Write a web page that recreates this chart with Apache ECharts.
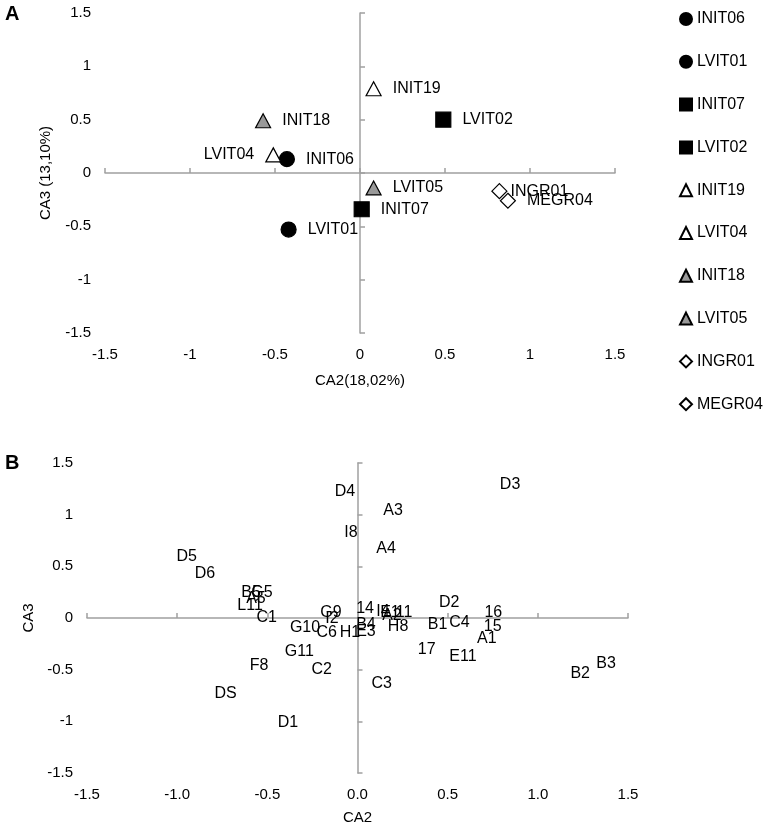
<!DOCTYPE html>
<html><head><meta charset="utf-8">
<script src="https://cdn.jsdelivr.net/npm/echarts@6/dist/echarts.min.js"></script>
<style>html,body{margin:0;padding:0;background:#fff}#c{width:765px;height:830px}</style>
</head><body><div id="c"></div>
<script>
// ---- Panel A: samples ----
const sampleNames = ['INIT06','LVIT01','INIT07','LVIT02','INIT19','LVIT04','INIT18','LVIT05','INGR01','MEGR04'];
const sampleCA2 = [-0.43,-0.42,0.01,0.49,0.08,-0.51,-0.57,0.08,0.82,0.87];
const sampleCA3 = [0.13,-0.53,-0.34,0.50,0.79,0.17,0.49,-0.14,-0.17,-0.26];
const sampleSymbols = ['circle','circle','rect','rect','triangle','triangle','triangle','triangle','diamond','diamond'];
const sampleFills = ['#000000','#000000','#000000','#000000','#ffffff','#ffffff','#999999','#999999','#ffffff','#ffffff'];
const sampleLabelSide = ['right','right','right','right','right','left','right','right','right','right'];

// ---- Panel B: variables ----
const varNames = ['D3','D4','A3','I8','A4','D5','D6','B5','G5','A5','L11','C1','G9','I2','G10','C6','14','I4','E1','A2','11','H8','B4','E3','H1','B1','C4','D2','16','15','A1','17','E11','G11','F8','C2','C3','DS','D1','B2','B3'];
const varCA2 = [0.846,-0.07,0.197,-0.036,0.158,-0.947,-0.846,-0.59,-0.53,-0.563,-0.596,-0.504,-0.147,-0.142,-0.291,-0.171,0.042,0.141,0.18,0.191,0.258,0.225,0.047,0.047,-0.042,0.444,0.565,0.509,0.753,0.75,0.717,0.384,0.585,-0.323,-0.546,-0.199,0.134,-0.732,-0.386,1.235,1.378];
const varCA3 = [1.29,1.22,1.04,0.83,0.667,0.592,0.425,0.25,0.25,0.19,0.116,0.0,0.05,-0.01,-0.09,-0.138,0.087,0.058,0.048,0.02,0.05,-0.087,-0.068,-0.135,-0.145,-0.061,-0.042,0.148,0.051,-0.084,-0.196,-0.309,-0.37,-0.326,-0.464,-0.496,-0.631,-0.734,-1.01,-0.535,-0.438];

// ---- Tick labels ----
const tickValues = [-1.5,-1,-0.5,0,0.5,1,1.5];
const tickLabelsA = ['-1.5','-1','-0.5','0','0.5','1','1.5'];
const tickLabelsBx = ['-1.5','-1.0','-0.5','0.0','0.5','1.0','1.5'];
const tickLabelsBy = ['-1.5','-1','-0.5','0','0.5','1','1.5'];

function fmt(labels){
  return function(v){
    const i = tickValues.findIndex(t => Math.abs(t - v) < 1e-9);
    return i >= 0 ? labels[i] : '';
  };
}
const FONT = "'Liberation Sans', Arial, Helvetica, sans-serif";
const AXIS_COLOR = '#a0a0a0';

function labelAxis(gridIndex, labels, name, nameGap){
  return {
    type:'value', gridIndex, min:-1.5, max:1.5, interval:0.5,
    axisLine:{show:false, onZero:false}, axisTick:{show:false}, splitLine:{show:false},
    axisLabel:{formatter:fmt(labels), fontSize:15, color:'#000', fontFamily:FONT, margin:14},
    name, nameLocation:'middle', nameGap,
    nameTextStyle:{fontSize:15, color:'#000', fontFamily:FONT}
  };
}
function zeroAxis(gridIndex){
  return {
    type:'value', gridIndex, min:-1.5, max:1.5, interval:0.5,
    axisLine:{show:true, onZero:true, lineStyle:{color:AXIS_COLOR, width:1.5}},
    axisTick:{show:true, length:5, lineStyle:{color:AXIS_COLOR, width:1.5}},
    axisLabel:{show:false}, splitLine:{show:false}
  };
}

const labelDistance = {INGR01:3};
const seriesA = sampleNames.map((n,i) => ({
  type:'scatter', name:n, xAxisIndex:0, yAxisIndex:0,
  symbol:sampleSymbols[i],
  symbolSize: sampleSymbols[i]==='triangle' ? [15,14] : 15,
  itemStyle:{color:sampleFills[i], borderColor:'#000', borderWidth:1.2, opacity:1},
  label:{show:true, formatter:n, position:sampleLabelSide[i],
         distance: labelDistance[n] != null ? labelDistance[n] : 11,
         fontSize:16, color:'#000', fontFamily:FONT},
  data:[[sampleCA2[i], sampleCA3[i]]]
}));

const seriesB = {
  type:'scatter', name:'variables', xAxisIndex:2, yAxisIndex:2,
  symbolSize:1, itemStyle:{color:'rgba(0,0,0,0)'},
  label:{show:true, position:'inside', formatter:p => p.data[2],
         fontSize:16, color:'#000', textBorderWidth:0, opacity:1, fontFamily:FONT},
  data: varNames.map((n,i) => [varCA2[i], varCA3[i], n])
};

const chart = echarts.init(document.getElementById('c'), null, {renderer:'canvas'});
chart.setOption({
  animation:false,
  backgroundColor:'#fff',
  textStyle:{fontFamily:FONT},
  grid:[
    {left:105, top:13, width:510, height:320},
    {left:87, top:463, width:541, height:310}
  ],
  xAxis:[
    labelAxis(0, tickLabelsA, 'CA2(18,02%)', 40),
    zeroAxis(0),
    labelAxis(1, tickLabelsBx, 'CA2', 37),
    zeroAxis(1)
  ],
  yAxis:[
    labelAxis(0, tickLabelsA, 'CA3 (13,10%)', 52),
    zeroAxis(0),
    labelAxis(1, tickLabelsBy, 'CA3', 47),
    zeroAxis(1)
  ],
  legend:{
    data:sampleNames, orient:'vertical', left:674, top:6,
    itemWidth:12, itemHeight:12, itemGap:26.8,
    textStyle:{fontSize:16, color:'#000', fontFamily:FONT},
    selectedMode:false
  },
  graphic:[
    {type:'text', left:5, top:4, style:{text:'A', font:'bold 20px '+FONT, fill:'#000'}},
    {type:'text', left:5, top:453, style:{text:'B', font:'bold 20px '+FONT, fill:'#000'}}
  ],
  series:[...seriesA, seriesB]
});
</script></body></html>
